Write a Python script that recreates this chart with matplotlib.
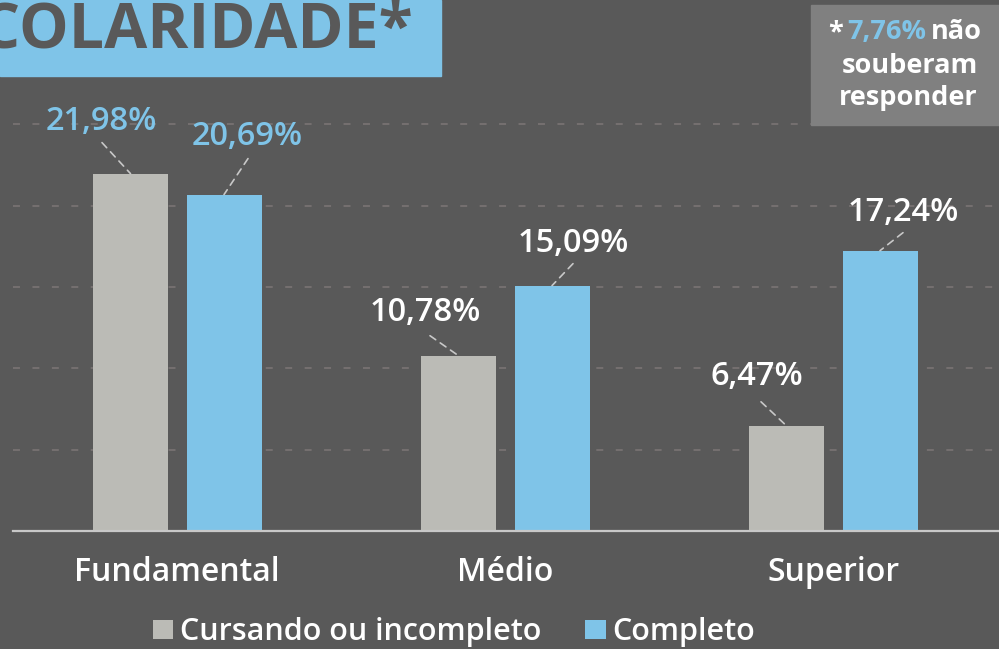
import matplotlib
matplotlib.use("Agg")
import matplotlib.pyplot as plt
from matplotlib.patches import Patch, Rectangle
import numpy as np

# ---------------- data ----------------
categories = ["Fundamental", "Médio", "Superior"]
cursando = [21.98, 10.78, 6.47]
completo = [20.69, 15.09, 17.24]
series_names = ["Cursando ou incompleto", "Completo"]
title_text = "ESCOLARIDADE*"
note_value = "7,76%"
note_lines = ["não", "souberam", "responder"]
grid_values = [5, 10, 15, 20, 25]

# ---------------- style ----------------
BG = "#595959"
GRAY = "#BBBBB6"
BLUE = "#7FC4E8"
WHITE = "#FFFFFF"
NOTE_BG = "#808080"
GRID = "#7a7474"
LEADER = "#c8c8c8"
label_colors = [[BLUE, WHITE, WHITE], [BLUE, WHITE, WHITE]]
# label (baseline) offsets and leader end offsets from bar-top centre, pixels
label_offsets = [[(-29.5, 44), (-33.5, 35), (-29.5, 41)],
                 [(23, 50), (21, 34), (23, 30)]]
leader_offsets = [[(-28.5, 31), (-28.5, 20), (-25.5, 24)],
                  [(24, 36), (21, 22), (23, 18)]]

plt.rcParams["font.family"] = ["Open Sans", "DejaVu Sans"]
plt.rcParams["lines.scale_dashes"] = False

W, H = 999, 649
fig = plt.figure(figsize=(W / 100, H / 100), dpi=100, facecolor=BG)
ax = fig.add_axes([13 / W, (H - 531) / H, (W - 13) / W, 531 / H])
ax.set_facecolor(BG)

x = np.arange(len(categories))
unit = 328.0
bw = 75 / unit
off = 46.75 / unit
bars1 = ax.bar(x - off, cursando, bw, color=GRAY, zorder=2)
bars2 = ax.bar(x + off, completo, bw, color=BLUE, zorder=2)

ax.set_xlim(-(177.25 - 13) / unit, (999 - 177.25) / unit)
ax.set_ylim(0, 531 / 16.26)

for g in grid_values:
    ax.axhline(g, color=GRID, lw=1.2, ls=(0, (5, 9)), zorder=1)

for s in ["top", "right", "left"]:
    ax.spines[s].set_visible(False)
ax.spines["bottom"].set_color(LEADER)
ax.spines["bottom"].set_linewidth(1.6)
ax.spines["bottom"].set_zorder(3)
ax.set_yticks([])
ax.set_xticks(x)
ax.set_xticklabels(categories)
ax.tick_params(axis="x", length=0, pad=18, labelsize=23, labelcolor=WHITE)
for t in ax.get_xticklabels():
    t.set_fontweight("semibold")


def fmt(v):
    return f"{v:.2f}".replace(".", ",") + "%"


for si, (vals, sign) in enumerate([(cursando, -1), (completo, 1)]):
    for ci, v in enumerate(vals):
        xp = ci + sign * off
        ax.annotate("", xy=(xp, v), xytext=leader_offsets[si][ci],
                    textcoords="offset pixels",
                    arrowprops=dict(arrowstyle="-", color=LEADER, lw=1.2,
                                    linestyle=(0, (5, 4)), shrinkA=0, shrinkB=0),
                    zorder=4)
        ax.annotate(fmt(v), xy=(xp, v), xytext=label_offsets[si][ci],
                    textcoords="offset pixels", ha="center", va="baseline",
                    fontsize=23.5, fontweight="semibold",
                    color=label_colors[si][ci], zorder=5)

# title box
fig.patches.append(Rectangle((0, 1 - 76 / H), 441 / W, 76 / H,
                             transform=fig.transFigure, color=BLUE, zorder=0))
fig.text(413 / W, 1 - 47 / H, title_text, ha="right", va="baseline",
         fontsize=45, fontweight="bold", color=BG)

# note box
fig.patches.append(Rectangle((811 / W, 1 - 125 / H), 188 / W, 120 / H,
                             transform=fig.transFigure, color=NOTE_BG, zorder=0))
fig.text(886.5 / W, 1 - 39 / H, note_value, ha="center", va="baseline",
         fontsize=19.5, fontweight="bold", color=BLUE)
fig.text(843 / W, 1 - 39 / H, "*", ha="right", va="baseline",
         fontsize=19.5, fontweight="bold", color=WHITE)
fig.text(931 / W, 1 - 39 / H, note_lines[0], ha="left", va="baseline",
         fontsize=19.5, fontweight="bold", color=WHITE)
fig.text(910 / W, 1 - 73 / H, note_lines[1], ha="center", va="baseline",
         fontsize=19.5, fontweight="bold", color=WHITE)
fig.text(908 / W, 1 - 105 / H, note_lines[2], ha="center", va="baseline",
         fontsize=19.5, fontweight="bold", color=WHITE)

# legend
handles = [Patch(facecolor=GRAY, edgecolor="none"), Patch(facecolor=BLUE, edgecolor="none")]
leg = fig.legend(handles, series_names, loc="center", ncol=2,
                 bbox_to_anchor=(454 / W, 1 - 632 / H), frameon=False,
                 prop=dict(size=22, weight="semibold"),
                 handlelength=0.66, handleheight=0.6, handletextpad=0.22,
                 columnspacing=1.45, borderpad=0, borderaxespad=0)
for t in leg.get_texts():
    t.set_color(WHITE)

fig.savefig("out.png", dpi=100, facecolor=BG)
